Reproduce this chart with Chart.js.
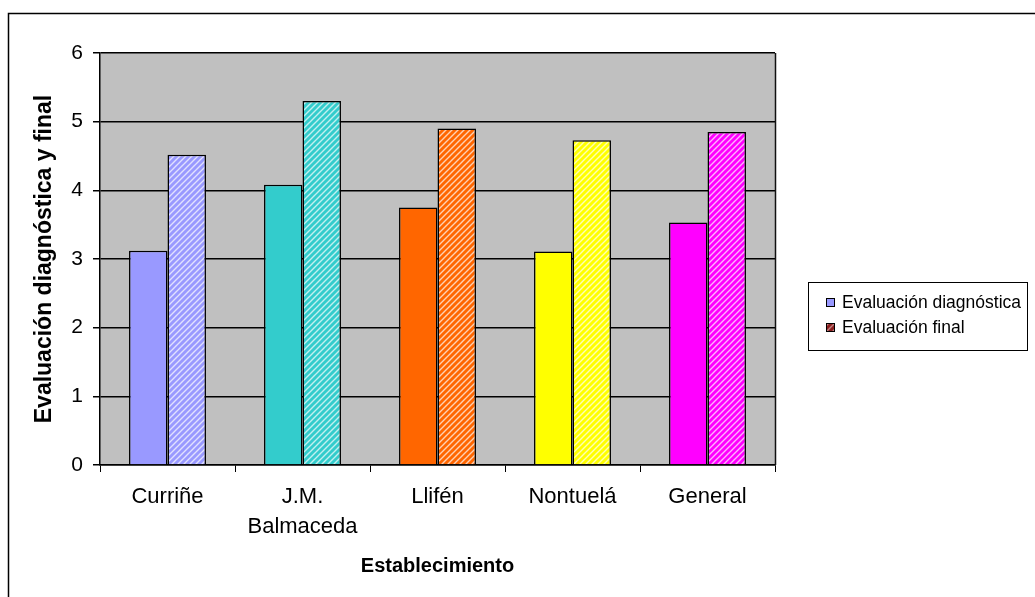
<!DOCTYPE html>
<html>
<head>
<meta charset="utf-8">
<script src="https://cdn.jsdelivr.net/npm/chart.js@4.4.0/dist/chart.umd.min.js"></script>
<style>
  html, body { margin: 0; padding: 0; background: #fff; }
  #wrap { width: 1035px; height: 597px; }
</style>
</head>
<body>
<div id="wrap"><canvas id="chart" width="1035" height="597"></canvas></div>
<script>
const categories = ["Curriñe", ["J.M.", "Balmaceda"], "Llifén", "Nontuelá", "General"];
const seriesNames = ["Evaluación diagnóstica", "Evaluación final"];
const diagnostica = [3.12, 4.08, 3.75, 3.11, 3.53];
const evalFinal = [4.52, 5.30, 4.90, 4.73, 4.85];
const yTicks = [0, 1, 2, 3, 4, 5, 6];
const barColors = ["#9999FF", "#33CCCC", "#FF6600", "#FFFF00", "#FF00FF"];
const legendColors = ["#9999FF", "#8B1E1E"];

const FONT = "'Liberation Sans', Arial, sans-serif";
const canvas = document.getElementById("chart");
const ctx = canvas.getContext("2d");

// diagonal white stripes over a base colour, like the Excel hatch fill
function hatch(color, alpha = 0.7) {
  const c = document.createElement("canvas");
  c.width = 6;
  c.height = 6;
  const g = c.getContext("2d");
  g.fillStyle = color;
  g.fillRect(0, 0, 6, 6);
  g.strokeStyle = `rgba(255,255,255,${alpha})`;
  g.lineWidth = 1.4;
  g.beginPath();
  g.moveTo(-1, 7); g.lineTo(7, -1);
  g.moveTo(-1, 1); g.lineTo(1, -1);
  g.moveTo(5, 7); g.lineTo(7, 5);
  g.stroke();
  return ctx.createPattern(c, "repeat");
}

const plotBg = {
  id: "plotBg",
  beforeDraw(chart) {
    const { ctx, chartArea: a } = chart;
    ctx.save();
    ctx.fillStyle = "#C0C0C0";
    ctx.fillRect(a.left, a.top, a.right - a.left, a.bottom - a.top);
    // outer frame, cut off at the right and bottom
    ctx.strokeStyle = "#000";
    ctx.lineWidth = 1.5;
    ctx.strokeRect(8.5, 13.5, 1100, 700);
    ctx.restore();
  },
  afterDraw(chart) {
    const { ctx, chartArea: a } = chart;
    ctx.save();
    ctx.strokeStyle = "#111";
    ctx.lineWidth = 1.5;
    ctx.beginPath();
    ctx.moveTo(a.right + 0.5, a.top);
    ctx.lineTo(a.right + 0.5, a.bottom);
    ctx.stroke();

    // legend box
    ctx.lineWidth = 1;
    ctx.strokeStyle = "#000";
    ctx.strokeRect(808.5, 282.5, 219, 68);
    ctx.font = "17.5px " + FONT;
    ctx.textBaseline = "middle";
    ctx.textAlign = "left";
    seriesNames.forEach((name, i) => {
      const y = 302 + i * 25;
      ctx.fillStyle = i === 0 ? legendColors[0] : hatch(legendColors[1], 0.45);
      ctx.fillRect(826, y - 4, 9, 9);
      ctx.strokeStyle = "#000";
      ctx.strokeRect(826.5, y - 3.5, 8, 8);
      ctx.fillStyle = "#000";
      ctx.fillText(name, 842, y + 1);
    });
    ctx.restore();
  }
};

new Chart(ctx, {
  type: "bar",
  plugins: [plotBg],
  data: {
    labels: categories,
    datasets: [
      {
        label: seriesNames[0],
        data: diagnostica,
        backgroundColor: barColors,
        borderColor: "#000",
        borderWidth: 1.5,
        categoryPercentage: 0.57,
        barPercentage: 1.0
      },
      {
        label: seriesNames[1],
        data: evalFinal,
        backgroundColor: barColors.map((c) => hatch(c)),
        borderColor: "#000",
        borderWidth: 1.5,
        categoryPercentage: 0.57,
        barPercentage: 1.0
      }
    ]
  },
  options: {
    responsive: false,
    animation: false,
    layout: { padding: { top: 53, right: 260, left: 0, bottom: 0 } },
    plugins: {
      legend: { display: false },
      tooltip: { enabled: false }
    },
    scales: {
      x: {
        offset: true,
        grid: { offset: true, drawOnChartArea: false, drawTicks: true, tickLength: 7, color: "#000" },
        border: { color: "#000", width: 1.5 },
        ticks: {
          color: "#000",
          font: { family: FONT, size: 22, lineHeight: 1.35 },
          padding: 10,
          maxRotation: 0,
          autoSkip: false
        },
        title: {
          display: true,
          text: "Establecimiento",
          color: "#000",
          font: { family: FONT, size: 20, weight: "bold" },
          padding: { bottom: 19 }
        },
        afterFit: (s) => { s.height = 132; }
      },
      y: {
        min: 0,
        max: 6,
        afterBuildTicks: (s) => { s.ticks = yTicks.map((v) => ({ value: v })); },
        grid: { color: "#000", tickLength: 7, lineWidth: 1.5 },
        border: { color: "#000", width: 1.5 },
        ticks: { color: "#000", font: { family: FONT, size: 21 }, padding: 10 },
        title: {
          display: true,
          text: "Evaluación diagnóstica y final",
          color: "#000",
          font: { family: FONT, size: 23, weight: "bold" },
          padding: { top: 31 }
        },
        afterFit: (s) => { s.width = 100; }
      }
    }
  }
});
</script>
</body>
</html>
